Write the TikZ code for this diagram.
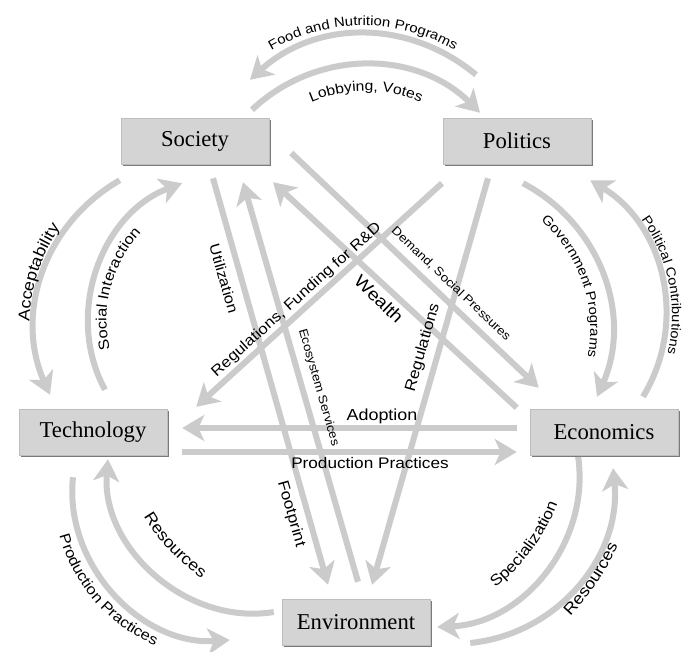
\documentclass[tikz,border=0pt]{standalone}
\usepackage{fontspec}
\setmainfont{Liberation Serif}
\setsansfont{Liberation Sans}[FakeStretch=1.12]
\usetikzlibrary{arrows.meta,calc,shadows,decorations.text,backgrounds}

\definecolor{flowgray}{HTML}{CBCBCB}
\definecolor{boxfill}{HTML}{D4D4D4}
\definecolor{boxline}{HTML}{BDBDBD}
\definecolor{boxshade}{HTML}{7A7A7A}

% label set along a circular arc: centre, radius, start angle, end angle, size, text
\newcommand\curvetext[6]{%
  \path[decorate,decoration={text along path,text align=center,
    text={|\sffamily\fontsize{#5}{#5}\selectfont|#6}}]
    (#1) ++(#3:#2) arc[start angle=#3,end angle=#4,radius=#2];}

\begin{document}
\begin{tikzpicture}[x=0.75pt,y=0.75pt,
  box/.style={draw=boxline,line width=0.4pt,fill=boxfill,
    minimum width=111pt,minimum height=34.5pt,inner sep=0pt,
    font=\fontsize{17pt}{17pt}\selectfont,
    drop shadow={shadow xshift=1.4pt,shadow yshift=-1.4pt,fill=boxshade,opacity=1}},
  flow/.style={draw=flowgray,line width=4.5pt,
    -{Stealth[length=16.5pt,width=19.5pt,inset=4.5pt]}},
  lbl/.style={font=\sffamily\fontsize{#1}{#1}\selectfont,inner sep=0pt},
  lbl/.default=12pt]

\useasboundingbox (0,0) rectangle (682,652);

% the five sectors
\node[box] (soc) at (195,511) {Society};
\node[box] (pol) at (517,511) {Politics};
\node[box] (tec) at (93,219.5) {Technology};
\node[box] (eco) at (604,219.5) {Economics};
\node[box] (env) at (356,30) {Environment};

\begin{scope}[on background layer]
\fill[white] (0,0) rectangle (682,652);

% straight flows
\draw[flow] ($(soc.south)+(18,-14)$) -- ($(env.north)+(-28,14)$);
\draw[flow] ($(env.north)+(2,17)$) -- ($(soc.south)+(48,-18)$);
\draw[flow] ($(eco.north west)+(-13,1.5)$) -- ($(soc.south)+(78,-18)$);
\draw[flow] ($(soc.east)+(22,-12)$) -- ($(eco.north west)+(9,21.5)$);
\draw[flow] ($(pol.south)+(-75,-19)$) -- ($(tec.north east)+(29,2.5)$);
\draw[flow] ($(pol.south)+(-29,-14)$) -- ($(env.north)+(16,14)$);
\draw[flow] ($(eco.west)+(-13,4.5)$) -- ($(tec.east)+(15,4.5)$);
\draw[flow] ($(tec.east)+(15,-19.5)$) -- ($(eco.west)+(-13,-19.5)$);

% curved flows between neighbouring sectors
\draw[flow] ($(pol.north)+(-41,43)$) to[bend right=41] ($(soc.north)+(55,38)$);
\draw[flow] ($(soc.north)+(57,8)$) to[bend left=44] ($(pol.north)+(-37,5)$);
\draw[flow] ($(soc.south west)+(-1,-16)$) to[bend right=42] ($(tec.north)+(-43,14.5)$);
\draw[flow] ($(tec.north)+(12,19.5)$) to[bend left=49] ($(soc.south)+(-13,-19)$);
\draw[flow] ($(pol.south)+(6,-19)$) to[bend left=43] ($(eco.north)+(-7,12.5)$);
\draw[flow] ($(eco.north)+(39,12.5)$) to[bend right=45] ($(pol.south east)+(-1,-16)$);
\draw[flow] ($(env.west)+(-8,10)$) to[bend left=52] ($(tec.south)+(15,-3.5)$);
\draw[flow] ($(tec.south)+(-20,-21.5)$) to[bend right=50] ($(env.west)+(-52,-18)$);
\draw[flow] ($(eco.south)+(-26,0)$) to[bend left=48] ($(env.east)+(7,-5)$);
\draw[flow] ($(env.east)+(40,-21)$) to[bend right=45] ($(eco.south)+(9,-12.5)$);
\end{scope}

% labels of the straight flows
\node[lbl=11pt,rotate=-74] (lutil) at (224,373.5) {Utilization};
\node[lbl=11.5pt,rotate=-74] (lfoot) at (291,138) {Footprint};
\node[lbl=9pt,rotate=-74] (leco) at (318.5,264.5) {Ecosystem Services};
\node[lbl=13pt,rotate=-44] (lwealth) at (379,353) {Wealth};
\node[lbl=9pt,rotate=-43.5] (ldemand) at (451,368) {Demand, Social Pressures};
\node[lbl=11.2pt,rotate=42] (lregrd) at (296.7,352) {Regulations, Funding for R\&D};
\node[lbl=11.5pt,rotate=74] (lreg) at (423,304.5) {Regulations};
\node[lbl=12pt] (ladopt) at (382,236) {Adoption};
\node[lbl=11.5pt] (lprod) at (370,189) {Production Practices};

% labels of the curved flows
\curvetext{363,444.5}{182}{130}{50}{10pt}{Food and Nutrition Programs}
\curvetext{366,422.5}{138.5}{125}{55}{10.5pt}{Lobbying, Votes}
\curvetext{204.4,325.6}{175}{192}{132}{12pt}{Acceptability}
\curvetext{233.5,332}{127}{200}{130}{11pt}{Social Interaction}
\curvetext{445.3,322.3}{145}{54}{-16}{10pt}{Government Programs}
\curvetext{508,337}{164}{45}{-23}{9.8pt}{Political Contributions}
\curvetext{219.9,159.4}{166}{186}{256}{11pt}{Production Practices}
\curvetext{315.6,238}{200}{200}{246}{12pt}{Resources}
\curvetext{371.2,221}{200}{-60}{-13}{11.5pt}{Specialization}
\curvetext{389.8,209}{250}{-52}{-16}{12pt}{Resources}

\end{tikzpicture}
\end{document}
